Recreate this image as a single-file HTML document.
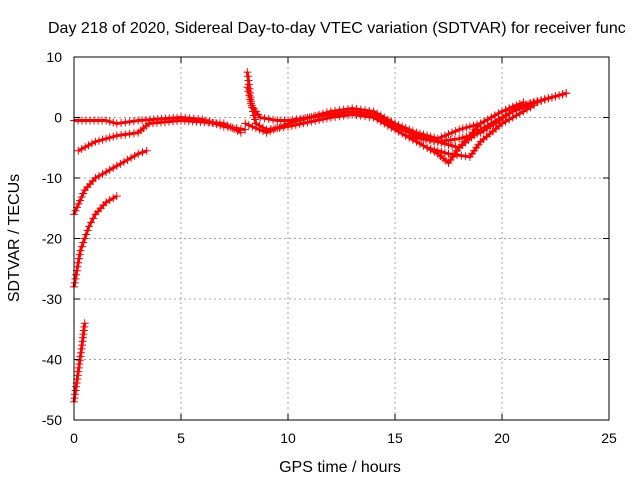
<!DOCTYPE html>
<html><head><meta charset="utf-8"><style>
body{margin:0;background:#fff}
svg text{font-family:"Liberation Sans",sans-serif;font-size:14px;fill:#000}
svg text.big{font-size:16px}
</style></head><body>
<svg width="640" height="480" id="chart">
<rect width="640" height="480" fill="#fff"/>
<text class="big" x="48" y="33">Day 218 of 2020, Sidereal Day-to-day VTEC variation (SDTVAR) for receiver func</text>
<text class="big" x="340" y="472" text-anchor="middle">GPS time / hours</text>
<text class="big" transform="translate(19,238) rotate(-90)" text-anchor="middle">SDTVAR / TECUs</text>
<g id="grid"></g><g id="series"></g><g id="axes"></g>
</svg>
<script>
const xTicks=[0,5,10,15,20,25];
const yTicks=[10,0,-10,-20,-30,-40,-50];
const track1=[[0,-0.5],[1.5,-0.5],[2,-1],[3,-0.5],[5,0],[6,-0.3],[7,-1.5],[8,-2]];
const track2=[[0.2,-5.5],[1,-4],[2,-3],[3,-2.5],[3.5,-1],[5,-0.5],[7,-1],[7.8,-2.5]];
const track3=[[0,-16],[0.5,-12],[1,-10],[2,-8],[3,-6],[3.4,-5.5]];
const track4=[[0,-28],[0.3,-22],[0.7,-18],[1,-16],[1.5,-14],[2,-13]];
const track5=[[0,-47],[0.2,-42],[0.4,-37],[0.5,-34]];
const track6=[[8.1,7.5],[8.3,2],[8.7,0],[9.5,-0.5],[10,-0.5],[11,0],[12,0.5],[13,1],[14,0.5],[15,-1.5],[16,-3],[17,-4],[18,-5],[19,-2],[20,0],[21,2],[22,3],[23,4]];
const track7=[[8.1,5],[8.5,-1],[9,-2],[10,-1.5],[12,0],[13,0.5],[14,0],[15,-2],[16,-4],[17,-6],[17.5,-7.5],[18,-5],[19,-1],[20,1],[21,2.5]];
const track8=[[8,-1],[9,-2.5],[10,-1],[12,1],[13,1.5],[14,1],[15,-1],[16,-2.5],[17,-3.5],[18,-2],[19,-1],[20,1],[22,3],[23,4]];
const track9=[[16.5,-5],[17.5,-6],[18.5,-6.5],[19,-4],[20,-1],[21,1],[21.5,2]];
const track10=[[15.5,-3],[17,-4],[18,-3.5],[19,-2.5],[20.5,1],[22,3]];
const tracks=[track1,track2,track3,track4,track5,track6,track7,track8,track9,track10];
const X0=74,X1=609,Y0=420,Y1=57;
const xs=v=>X0+(v-0)/(25-0)*(X1-X0);
const ys=v=>Y0-(v+50)/60*(Y0-Y1);
const NS="http://www.w3.org/2000/svg";
function mk(t,a,p){const e=document.createElementNS(NS,t);for(const k in a)e.setAttribute(k,a[k]);p.appendChild(e);return e;}
const grid=document.getElementById('grid'),axes=document.getElementById('axes'),ser=document.getElementById('series');
xTicks.forEach(t=>{const x=xs(t);
 if(t>0&&t<25){const g=mk('line',{x1:x,x2:x,y1:Y1,y2:Y0,stroke:'#a0a0a0','stroke-dasharray':'2,3'},grid);
 
 }
 const l=mk('text',{x:x,y:Y0+23,'text-anchor':'middle'},axes);l.textContent=t;
 
 
 mk('line',{x1:x,x2:x,y1:Y0,y2:Y0-6,stroke:'#000'},axes);mk('line',{x1:x,x2:x,y1:Y1,y2:Y1+6,stroke:'#000'},axes);});
yTicks.forEach(t=>{const y=ys(t);
 if(t>-50&&t<10){const g=mk('line',{x1:X0,x2:X1,y1:y,y2:y,stroke:'#a0a0a0','stroke-dasharray':'2,3'},grid);
 
 }
 const l=mk('text',{x:X0-12,y:y+5,'text-anchor':'end'},axes);l.textContent=t;
 
 
 mk('line',{x1:X0,x2:X0+6,y1:y,y2:y,stroke:'#000'},axes);mk('line',{x1:X1,x2:X1-6,y1:y,y2:y,stroke:'#000'},axes);});
const fr=mk('rect',{x:X0,y:Y1,width:X1-X0,height:Y0-Y1,fill:'none',stroke:'#000'},axes);


tracks.forEach((tr,i)=>{
 const pl=mk('polyline',{points:tr.map(p=>xs(p[0])+','+ys(p[1])).join(' '),fill:'none',stroke:'#f00','stroke-width':3,'stroke-linejoin':'round'},ser);
 
 
 let d='';
 for(let k=0;k<tr.length-1;k++){
  const ax=xs(tr[k][0]),ay=ys(tr[k][1]),bx=xs(tr[k+1][0]),by=ys(tr[k+1][1]);
  const n=Math.max(1,Math.round(Math.hypot(bx-ax,by-ay)/4));
  for(let j=0;j<n;j++){const x=ax+(bx-ax)*j/n,y=ay+(by-ay)*j/n;d+=`M${x-4},${y}H${x+4}M${x},${y-4}V${y+4}`;}
 }
 const last=tr[tr.length-1],lx=xs(last[0]),ly=ys(last[1]);
 d+=`M${lx-4},${ly}H${lx+4}M${lx},${ly-4}V${ly+4}`;
 const m=mk('path',{d:d,stroke:'#f00','stroke-width':1},ser);
 
 
});
</script>
</body></html>
